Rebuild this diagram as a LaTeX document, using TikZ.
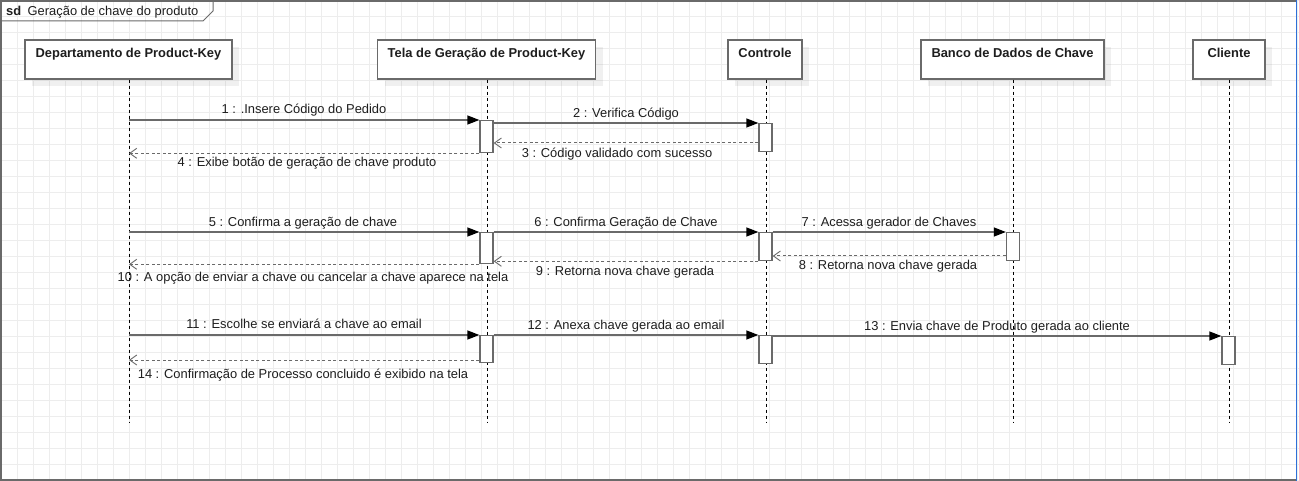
\documentclass[tikz,border=0pt]{standalone}
\usepackage{fontspec}
\setmainfont{Liberation Sans}
\usetikzlibrary{arrows.meta,shadows}
\definecolor{gridc}{HTML}{EDEDED}
\definecolor{linec}{HTML}{6A6A6A}
\definecolor{selblue}{HTML}{2E6FD8}
\definecolor{txtc}{HTML}{1E1E1E}
\tikzset{
  lifebox/.style={draw=linec, line width=1.3pt, fill=white, inner sep=0pt,
    minimum height=39pt, text height=17.5pt, text depth=21.5pt,
    font=\fontsize{12.9}{15}\selectfont\bfseries, text=txtc,
    general shadow={fill=black, opacity=0.06, shadow xshift=7pt, shadow yshift=-7pt}},
  lifeline/.style={draw=black, line width=0.9pt, dash pattern=on 3pt off 3pt},
  act/.style={draw=linec, line width=1.3pt, fill=white, inner sep=0pt, minimum width=13pt},
  msg/.style={draw=linec, line width=1.3pt, -{Triangle[length=12pt,width=9pt,color=black,fill=black]}},
  ret/.style={draw=linec, line width=1pt, dash pattern=on 3pt off 2.5pt, -{Straight Barb[length=7pt,width=10pt,line width=0.9pt]}},
  lbl/.style={font=\fontsize{12.9}{15}\selectfont, text=txtc, anchor=base, inner sep=0pt}
}
\begin{document}
\begin{tikzpicture}[x=1pt,y=-1pt]
\useasboundingbox (0,0) rectangle (1299,481);
\fill[white] (0,0) rectangle (1299,481);
% grid
\foreach \gx in {1,17,...,1297} \draw[gridc,line width=0.8pt] (\gx,0) -- (\gx,481);
\foreach \gy in {0,16,...,480} \draw[gridc,line width=0.8pt] (0,\gy) -- (1299,\gy);
% frame
\draw[linec,line width=2pt] (1296,0.8) -- (1,0.8) -- (1,479.5) -- (1296,479.5);
\draw[selblue,line width=1.5pt] (1296.5,0) -- (1296.5,481);
\draw[linec,line width=1pt] (1,21) -- (203,21) -- (213,11) -- (213,0.8);
\node[anchor=base west, inner sep=0pt, font=\fontsize{12.9}{15}\selectfont, text=txtc] (title) at (6,15.5) {\textbf{sd}\enspace Geração de chave do produto};

% lifeline heads
\node[lifebox, minimum width=207pt] (dep) at (128.5,59.5) {Departamento de Product-Key};
\node[lifebox, minimum width=218pt] (tela) at (486.5,59.5) {Tela de Geração de Product-Key};
\node[lifebox, minimum width=74pt] (ctl) at (765,59.5) {Controle};
\node[lifebox, minimum width=183pt] (bd) at (1012.5,59.5) {Banco de Dados de Chave};
\node[lifebox, minimum width=72pt] (cli) at (1229,59.5) {Cliente};

% lifelines
\coordinate (depE) at (129,423);
\coordinate (telaE) at (487.5,423);
\coordinate (ctlE) at (766.5,423);
\coordinate (bdE) at (1013,423);
\coordinate (cliE) at (1229,423);
\draw[lifeline] (dep.south -| depE) -- (depE);
\draw[lifeline] (tela.south -| telaE) -- (telaE);
\draw[lifeline] (ctl.south -| ctlE) -- (ctlE);
\draw[lifeline] (bd.south -| bdE) -- (bdE);
\draw[lifeline] (cli.south -| cliE) -- (cliE);

% activations
\node[act, anchor=north, minimum height=32pt] (t1) at (486.5,120) {};
\node[act, anchor=north, minimum height=28pt] (c1) at (765.5,123) {};
\node[act, anchor=north, minimum height=31pt] (t2) at (486.5,232) {};
\node[act, anchor=north, minimum height=28pt] (c2) at (765.5,232) {};
\node[act, anchor=north, minimum height=28pt] (b2) at (1013,232) {};
\node[act, anchor=north, minimum height=27pt] (t3) at (486.5,335) {};
\node[act, anchor=north, minimum height=28pt] (c3) at (765.5,335) {};
\node[act, anchor=north, minimum height=28pt] (k3) at (1228.5,336) {};

% messages group 1
\draw[msg] (depE |- t1.north west) -- (t1.north west);
\draw[msg] (t1.east |- c1.north) -- (c1.north west);
\draw[ret] (c1.west |- 0,143) -- (t1.east |- 0,143);
\draw[ret] (t1.south west) -- (depE |- t1.south west);
\node[lbl] (l1) at (304,113.5) {1 : .Insere Código do Pedido};
\node[lbl] (l2) at (626,117.5) {2 : Verifica Código};
\node[lbl] (l3) at (617,157.5) {3 : Código validado com sucesso};
\node[lbl] (l4) at (307,166.5) {4 : Exibe botão de geração de chave produto};

% group 2
\draw[msg] (depE |- t2.north west) -- (t2.north west);
\draw[msg] (t2.north east) -- (c2.north west);
\draw[msg] (c2.north east) -- (b2.north west);
\draw[ret] (b2.west |- 0,256) -- (c2.east |- 0,256);
\draw[ret] (c2.south west) -- (t2.east |- c2.south west);
\draw[ret] (t2.south west) -- (depE |- t2.south west);
\node[lbl] (l5) at (303,226.5) {5 : Confirma a geração de chave};
\node[lbl] (l6) at (626,226.5) {6 : Confirma Geração de Chave};
\node[lbl] (l7) at (889,226.5) {7 : Acessa gerador de Chaves};
\node[lbl] (l8) at (888,269.5) {8 : Retorna nova chave gerada};
\node[lbl] (l9) at (625,275.5) {9 : Retorna nova chave gerada};
\node[lbl] (l10) at (313,281.5) {10 : A opção de enviar a chave ou cancelar a chave aparece na tela};

% group 3
\draw[msg] (depE |- t3.north west) -- (t3.north west);
\draw[msg] (t3.north east) -- (c3.north west);
\draw[msg] (c3.east |- k3.north) -- (k3.north west);
\draw[ret] (t3.west |- 0,360) -- (depE |- 0,360);
\node[lbl] (l11) at (304,328.5) {11 : Escolhe se enviará a chave ao email};
\node[lbl] (l12) at (626,329.5) {12 : Anexa chave gerada ao email};
\node[lbl] (l13) at (997,330.5) {13 : Envia chave de Produto gerada ao cliente};
\node[lbl] (l14) at (303,378.5) {14 : Confirmação de Processo concluido é exibido na tela};
\end{tikzpicture}
\end{document}
